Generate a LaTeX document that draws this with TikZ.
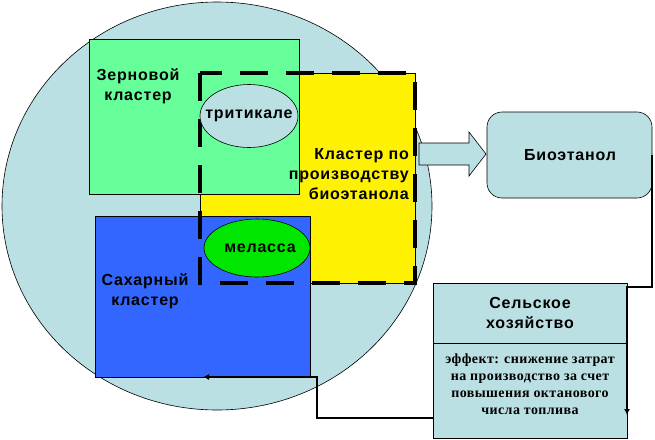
\documentclass[tikz,border=0pt]{standalone}
\usepackage{fontspec}
\setmainfont{Liberation Sans}[LetterSpace=5]
\newfontfamily\effserif{Liberation Serif}[LetterSpace=3]
\usetikzlibrary{shapes.geometric,arrows.meta}
\definecolor{circfill}{RGB}{187,224,227}
\definecolor{grainfill}{RGB}{102,255,153}
\definecolor{sugarfill}{RGB}{51,102,255}
\definecolor{molfill}{RGB}{0,230,0}
\tikzset{
  box/.style={draw=black, line width=0.6pt, inner sep=0pt, outer sep=0pt},
  oval/.style={ellipse, draw=black, line width=0.6pt, inner sep=0pt},
  lbl/.style={font=\fontsize{16}{20}\selectfont\bfseries, inner sep=0pt, align=center},
  efftext/.style={font=\effserif\fontsize{14}{17}\selectfont\bfseries, inner sep=0pt, align=center},
  conn/.style={draw=black, line width=2.6pt, -{Latex[length=6pt,width=6pt]}},
  dashbox/.style={draw=black, line width=4pt, dash pattern=on 28pt off 18pt}
}
\begin{document}
\begin{tikzpicture}[x=1pt,y=-1pt]
\useasboundingbox (0,0) rectangle (655,439);
% big circle
\draw[fill=circfill, line width=0.6pt] (217,206) ellipse [x radius=215, y radius=204];
% clusters
\node[box, fill=yellow, minimum width=215pt, minimum height=210pt] (bioc) at (307.5,178) {};
\node[box, fill=grainfill, minimum width=210pt, minimum height=155pt] (grain) at (194,116.5) {};
\node[box, fill=sugarfill, minimum width=215pt, minimum height=161pt] (sugar) at (202.5,296.5) {};
\draw[dashbox] (bioc.north west) rectangle (bioc.south east);
% ellipses
\node[oval, fill=circfill, minimum width=98pt, minimum height=63pt] (trit) at (249,116) {};
\node[oval, fill=molfill, minimum width=106pt, minimum height=58pt] (mol) at (257,248) {};
% labels
\node[lbl] (tgrain) at (138,86) {Зерновой\\кластер};
\node[lbl] (ttrit) at (249,116) {тритикале};
\node[lbl, align=right, anchor=east] (tbioc) at (409,174) {Кластер по\\производству\\биоэтанола};
\node[lbl] (tmol) at (260,248) {меласса};
\node[lbl] (tsugar) at (145,291) {Сахарный\\кластер};
% block arrow
\path[draw=black, line width=0.6pt, fill=circfill] (419,143) -- (469,143) -- (469,132) -- (486,154) -- (469,176) -- (469,165) -- (419,165) -- cycle;
% Bioethanol box
\node[box, fill=circfill, rounded corners=15pt, minimum width=165pt, minimum height=86pt] (bio) at (569.5,155) {};
\node[lbl] (tbio) at (570,155) {Биоэтанол};
% Agriculture box
\node[box, fill=circfill, minimum width=194pt, minimum height=155pt] (farm) at (530,360.5) {};
\draw[line width=0.6pt] (farm.west |- 0,343) -- (farm.east |- 0,343);
\node[lbl] (tfarm) at (530,313) {Сельское\\хозяйство};
\node[efftext] (teff) at (530,384) {эффект: снижение затрат\\на производство за счет\\повышения октанового\\числа топлива};
% connectors
\coordinate (c1) at (627,287);
\coordinate (c2) at (627,415);
\coordinate (c3) at (317,377);
\coordinate (c4) at (203,377);
\draw[conn] (bio.east) |- (c1) -- (c2);
\draw[conn] ([yshift=20pt]farm.south west) -| (c3) -- (c4);
\end{tikzpicture}
\end{document}
